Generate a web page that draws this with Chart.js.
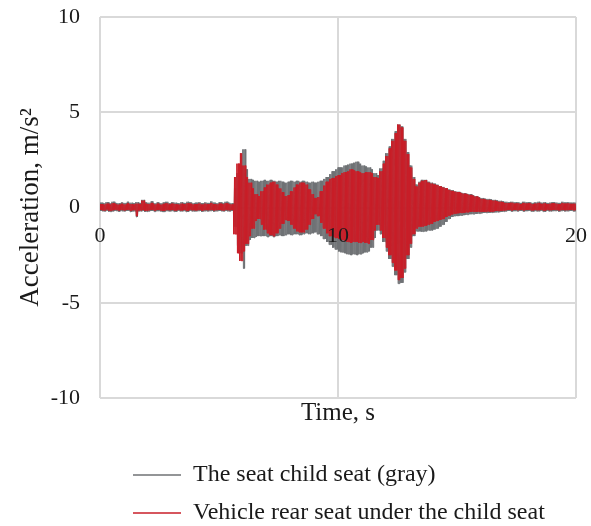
<!DOCTYPE html>
<html lang="en">
<head>
<meta charset="UTF-8">
<title>Acceleration - child seat vs rear seat</title>
<script src="https://cdn.jsdelivr.net/npm/chart.js"></script>
<style>
  html, body { margin: 0; padding: 0; background: #ffffff; }
  canvas { display: block; }
</style>
</head>
<body>
<canvas id="accChart" width="591" height="526"></canvas>
<script>
  // time axis: 0..20 s, traces sampled every 0.025 s
  const T_MAX = 20;
  const SAMPLE_STEP = 0.025;
  const SEG_LEN = 0.125;         // envelope values below are one per 0.125 s (8 per row = 1 s)
  const xTicks = [0, 10, 20];
  const yTicks = [-10, -5, 0, 5, 10];

  // upper / lower peak acceleration per segment, m/s^2
  const grayHigh = [
    0.25, 0.22, 0.28, 0.22, 0.3, 0.24, 0.22, 0.27,
    0.24, 0.3, 0.25, 0.22, 0.28, 0.24, 0.4, 0.27,
    0.25, 0.32, 0.22, 0.27, 0.22, 0.26, 0.3, 0.22,
    0.27, 0.25, 0.22, 0.28, 0.24, 0.3, 0.27, 0.22,
    0.25, 0.28, 0.22, 0.27, 0.24, 0.32, 0.25, 0.22,
    0.27, 0.24, 0.3, 0.25, 0.22, 1.0, 1.8, 2.2,
    3.05, 2.0, 1.5, 1.45, 1.4, 1.35, 1.4, 1.45,
    1.4, 1.45, 1.4, 1.35, 1.4, 1.35, 1.3, 1.35,
    1.4, 1.35, 1.4, 1.35, 1.4, 1.35, 1.3, 1.35,
    1.3, 1.35, 1.4, 1.5, 1.6, 1.75, 1.9, 2.0,
    2.1, 2.1, 2.2, 2.25, 2.3, 2.35, 2.4, 2.3,
    2.2, 2.15, 2.1, 2.0, 1.8, 1.7, 2.05, 2.45,
    2.85, 3.2, 3.6, 4.0, 4.35, 4.25, 3.6, 2.9,
    2.2, 1.6, 1.2, 1.35, 1.45, 1.45, 1.35, 1.3,
    1.25, 1.2, 1.12, 1.08, 1.0, 0.95, 0.9, 0.85,
    0.82, 0.78, 0.75, 0.72, 0.7, 0.65, 0.6, 0.55,
    0.5, 0.46, 0.45, 0.43, 0.4, 0.38, 0.35, 0.33,
    0.3, 0.27, 0.3, 0.26, 0.28, 0.24, 0.3, 0.26,
    0.28, 0.24, 0.26, 0.3, 0.25, 0.28, 0.24, 0.26,
    0.28, 0.26, 0.24, 0.3, 0.26, 0.28, 0.25, 0.26
  ];
  const grayLow = [
    -0.18, -0.2, -0.16, -0.22, -0.2, -0.18, -0.22, -0.19,
    -0.2, -0.18, -0.23, -0.2, -0.5, -0.2, -0.18, -0.22,
    -0.2, -0.18, -0.22, -0.19, -0.2, -0.24, -0.18, -0.2,
    -0.19, -0.22, -0.18, -0.2, -0.19, -0.23, -0.18, -0.2,
    -0.2, -0.18, -0.22, -0.19, -0.2, -0.18, -0.21, -0.19,
    -0.18, -0.2, -0.17, -0.2, -0.18, -1.0, -2.0, -2.4,
    -3.2, -2.0, -1.7, -1.6, -1.55, -1.5, -1.5, -1.5,
    -1.55, -1.5, -1.55, -1.5, -1.45, -1.5, -1.45, -1.4,
    -1.45, -1.4, -1.4, -1.45, -1.4, -1.35, -1.4, -1.35,
    -1.3, -1.4, -1.5, -1.65, -1.8, -1.95, -2.1, -2.2,
    -2.3, -2.35, -2.4, -2.45, -2.5, -2.45, -2.5, -2.45,
    -2.4, -2.35, -2.3, -2.1, -1.6, -1.2, -1.4, -1.8,
    -2.3, -2.7, -3.1, -3.55, -4.0, -3.95, -3.4, -2.7,
    -2.1, -1.5, -1.25, -1.25, -1.27, -1.25, -1.2, -1.2,
    -1.15, -1.1, -1.0, -0.9, -0.75, -0.6, -0.5, -0.45,
    -0.45, -0.42, -0.4, -0.38, -0.35, -0.35, -0.33, -0.32,
    -0.3, -0.28, -0.28, -0.27, -0.26, -0.25, -0.24, -0.22,
    -0.2, -0.18, -0.21, -0.19, -0.2, -0.18, -0.21, -0.19,
    -0.18, -0.21, -0.19, -0.2, -0.18, -0.22, -0.18, -0.2,
    -0.19, -0.18, -0.21, -0.18, -0.2, -0.19, -0.18, -0.2
  ];
  const redHigh = [
    0.18, 0.15, 0.2, 0.16, 0.22, 0.17, 0.15, 0.2,
    0.16, 0.22, 0.18, 0.15, 0.2, 0.17, 0.36, 0.2,
    0.18, 0.24, 0.16, 0.2, 0.15, 0.19, 0.22, 0.16,
    0.2, 0.18, 0.15, 0.2, 0.17, 0.22, 0.2, 0.16,
    0.18, 0.21, 0.15, 0.2, 0.17, 0.24, 0.18, 0.16,
    0.2, 0.17, 0.22, 0.18, 0.16, 1.6, 2.3, 2.85,
    2.2, 1.6, 1.3, 1.0, 0.7, 0.6, 0.85, 1.05,
    1.2, 1.3, 1.35, 1.2, 1.0, 0.8, 0.6, 0.65,
    0.85, 1.05, 1.2, 1.3, 1.3, 1.2, 0.95, 0.7,
    0.5, 0.55, 0.85, 1.15, 1.35, 1.5, 1.55, 1.65,
    1.7, 1.8, 1.85, 1.9, 2.0, 1.95, 1.9, 1.85,
    1.8, 1.85, 1.85, 1.8, 1.6, 1.55, 1.9, 2.3,
    2.7, 3.1, 3.5, 3.9, 4.35, 4.2, 3.5, 2.8,
    2.1, 1.5, 1.1, 1.3, 1.4, 1.44, 1.3, 1.25,
    1.2, 1.18, 1.1, 1.05, 1.0, 0.92, 0.87, 0.83,
    0.8, 0.76, 0.72, 0.7, 0.66, 0.62, 0.57, 0.52,
    0.45, 0.42, 0.4, 0.38, 0.36, 0.32, 0.3, 0.28,
    0.24, 0.22, 0.25, 0.2, 0.22, 0.18, 0.24, 0.2,
    0.22, 0.18, 0.2, 0.24, 0.19, 0.22, 0.18, 0.2,
    0.22, 0.2, 0.18, 0.24, 0.2, 0.22, 0.19, 0.2
  ];
  const redLow = [
    -0.12, -0.15, -0.1, -0.17, -0.14, -0.12, -0.16, -0.13,
    -0.15, -0.12, -0.17, -0.14, -0.45, -0.15, -0.12, -0.17,
    -0.14, -0.12, -0.16, -0.13, -0.15, -0.18, -0.12, -0.14,
    -0.13, -0.16, -0.12, -0.15, -0.13, -0.17, -0.12, -0.14,
    -0.15, -0.12, -0.16, -0.13, -0.14, -0.12, -0.15, -0.13,
    -0.12, -0.15, -0.11, -0.14, -0.12, -1.4, -2.4, -2.8,
    -2.3, -1.9, -1.5, -1.1, -0.7, -0.6, -0.9, -1.15,
    -1.35, -1.45, -1.5, -1.35, -1.1, -0.85, -0.65, -0.7,
    -0.9, -1.1, -1.25, -1.3, -1.3, -1.15, -0.9, -0.6,
    -0.35, -0.45, -0.8, -1.1, -1.35, -1.5, -1.55, -1.6,
    -1.65, -1.7, -1.75, -1.8, -1.85, -1.8, -1.8, -1.85,
    -1.8, -1.85, -1.9, -1.7, -1.2, -0.9, -1.2, -1.6,
    -2.1, -2.5, -2.9, -3.3, -3.8, -3.7, -3.2, -2.5,
    -1.9, -1.4, -1.1, -1.0, -1.0, -0.95, -0.9, -0.85,
    -0.75, -0.7, -0.65, -0.6, -0.5, -0.42, -0.36, -0.32,
    -0.3, -0.28, -0.27, -0.25, -0.22, -0.22, -0.22, -0.22,
    -0.22, -0.22, -0.2, -0.22, -0.2, -0.18, -0.18, -0.16,
    -0.14, -0.12, -0.15, -0.13, -0.14, -0.12, -0.15, -0.13,
    -0.12, -0.15, -0.13, -0.14, -0.12, -0.16, -0.12, -0.14,
    -0.13, -0.12, -0.15, -0.12, -0.14, -0.13, -0.12, -0.14
  ];

  const seriesLabels = ['The seat child seat (gray)', 'Vehicle rear seat under the child seat'];
  const GRAY = '#6f7275';
  const RED = '#c81e28';
  const GRID = '#d9d9d9';
  const TEXT = '#1a1a1a';
  const SERIF = "'Liberation Serif', 'Times New Roman', serif";

  // vibration trace: consecutive samples swing between the segment's upper and lower peaks
  function buildTrace(high, low) {
    const pts = [];
    const n = Math.round(T_MAX / SAMPLE_STEP);
    const perSeg = Math.round(SEG_LEN / SAMPLE_STEP);
    for (let i = 0; i <= n; i++) {
      const seg = Math.min(Math.floor(i / perSeg), high.length - 1);
      pts.push({ x: +(i * SAMPLE_STEP).toFixed(3), y: i % 2 === 0 ? high[seg] : low[seg] });
    }
    return pts;
  }

  // nudges the legend block under the plot
  const legendOffset = {
    id: 'legendOffset',
    afterLayout(chart) {
      const lg = chart.legend;
      const dx = 19, dy = 9;
      lg.left += dx; lg.right += dx;
      lg.top += dy; lg.bottom += dy;
    }
  };

  function traceDataset(label, data, color) {
    return {
      label,
      data,
      borderColor: color,
      backgroundColor: color,
      pointBorderColor: color,
      pointBackgroundColor: color,
      pointBorderWidth: 1.5,
      borderWidth: 1,
      pointRadius: 0,
      tension: 0
    };
  }

  const ctx = document.getElementById('accChart').getContext('2d');
  const chart = new Chart(ctx, {
    type: 'line',
    data: {
      // red is listed first so it is painted over the gray trace
      datasets: [
        traceDataset(seriesLabels[1], buildTrace(redHigh, redLow), RED),
        traceDataset(seriesLabels[0], buildTrace(grayHigh, grayLow), GRAY)
      ]
    },
    options: {
      responsive: false,
      animation: false,
      parsing: false,
      normalized: true,
      events: [],
      layout: { padding: { top: 17, right: 15, bottom: 0, left: 0 } },
      scales: {
        x: {
          type: 'linear',
          min: 0,
          max: T_MAX,
          afterBuildTicks: s => { s.ticks = xTicks.map(v => ({ value: v })); },
          ticks: { display: false },
          grid: { color: GRID, lineWidth: 2, drawTicks: false },
          border: { display: false },
          title: {
            display: true,
            text: 'Time, s',
            color: TEXT,
            font: { family: SERIF, size: 25 },
            padding: { top: 0, bottom: 12 }
          }
        },
        // tick numbers sit on the zero line, painted over the traces; takes no room in the layout
        xZero: {
          axis: 'x',
          type: 'linear',
          position: { y: 0 },
          min: 0,
          max: T_MAX,
          afterBuildTicks: s => { s.ticks = xTicks.map(v => ({ value: v })); },
          afterFit: s => {
            s.height = 0;
            s.paddingLeft = 0; s.paddingRight = 0; s.paddingTop = 0; s.paddingBottom = 0;
          },
          ticks: { z: 1, padding: 16, color: TEXT, font: { family: SERIF, size: 22 }, maxRotation: 0, autoSkip: false },
          grid: { display: false, drawTicks: false },
          border: { display: false }
        },
        y: {
          type: 'linear',
          min: -10,
          max: 10,
          afterBuildTicks: s => { s.ticks = yTicks.map(v => ({ value: v })); },
          afterFit: s => { s.width = 100; s.paddingTop = 0; s.paddingBottom = 0; },
          ticks: { padding: 20, color: TEXT, font: { family: SERIF, size: 22 } },
          grid: { color: GRID, lineWidth: 2, drawTicks: false },
          border: { display: false },
          title: {
            display: true,
            text: 'Acceleration, m/s²',
            color: TEXT,
            font: { family: SERIF, size: 27 },
            padding: { top: 15, bottom: 0 }
          }
        }
      },
      plugins: {
        legend: {
          position: 'bottom',
          align: 'start',
          fullSize: false,
          labels: {
            color: TEXT,
            font: { family: SERIF, size: 24 },
            usePointStyle: true,
            pointStyle: 'line',
            pointStyleWidth: 48,
            padding: 14,
            sort: (a, b) => b.datasetIndex - a.datasetIndex
          }
        },
        tooltip: { enabled: false }
      }
    },
    plugins: [legendOffset]
  });
</script>
</body>
</html>
